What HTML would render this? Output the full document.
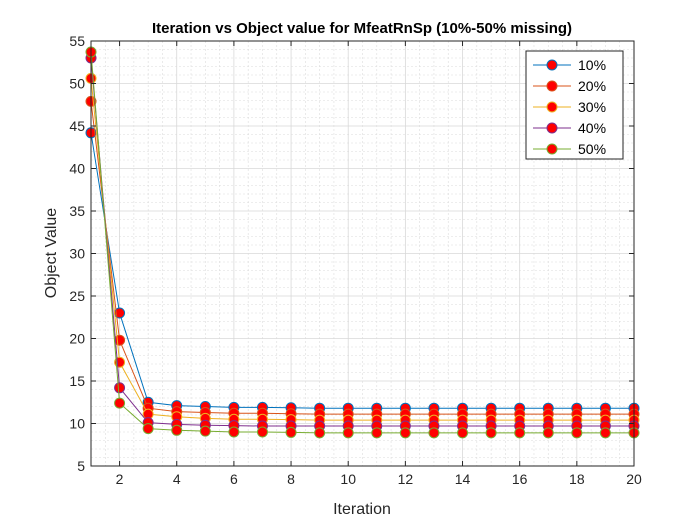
<!DOCTYPE html>
<html><head><meta charset="utf-8"><style>
body{margin:0;background:#fff;font-family:"Liberation Sans",sans-serif}
svg text{font-family:"Liberation Sans",sans-serif}
</style></head><body>
<svg id="chart" width="700" height="525">
<rect x="0" y="0" width="700" height="525" fill="#fff"/>
<g id="grid"></g><g id="series"></g><g id="axes"></g>
</svg>
<script>
const iterations=[1,2,3,4,5,6,7,8,9,10,11,12,13,14,15,16,17,18,19,20];
const s10=[44.2,23.0,12.5,12.1,12.0,11.9,11.9,11.85,11.8,11.8,11.8,11.8,11.8,11.8,11.8,11.8,11.8,11.8,11.8,11.8];
const s20=[47.9,19.8,11.8,11.4,11.3,11.2,11.2,11.15,11.1,11.1,11.1,11.1,11.1,11.1,11.1,11.1,11.1,11.1,11.1,11.1];
const s30=[50.6,17.2,11.1,10.8,10.6,10.5,10.5,10.45,10.4,10.4,10.4,10.4,10.4,10.4,10.4,10.4,10.4,10.4,10.4,10.4];
const s40=[53.0,14.2,10.1,9.9,9.8,9.75,9.7,9.7,9.7,9.7,9.7,9.7,9.7,9.7,9.7,9.7,9.7,9.7,9.7,9.7];
const s50=[53.7,12.4,9.4,9.2,9.1,9.0,9.0,8.95,8.9,8.9,8.9,8.9,8.9,8.9,8.9,8.9,8.9,8.9,8.9,8.9];
const seriesNames=["10%","20%","30%","40%","50%"];
const seriesColors=["#0072BD","#D95319","#EDB120","#7E2F8E","#77AC30"];
const xTicks=[2,4,6,8,10,12,14,16,18,20];
const yTicks=[5,10,15,20,25,30,35,40,45,50,55];
const all=[s10,s20,s30,s40,s50];
const L=91,R=634,T=41,B=466;
const x=v=>L+(v-1)/(20-1)*(R-L);
const y=v=>B-(v-5)/(55-5)*(B-T);
const NS="http://www.w3.org/2000/svg";
function mk(p,t,a){const e=document.createElementNS(NS,t);for(const k in a)e.setAttribute(k,a[k]);p.appendChild(e);return e;}
const grid=document.getElementById('grid'),ser=document.getElementById('series'),ax=document.getElementById('axes');
for(let v=1.5;v<20;v+=0.5){if(Number.isInteger(v)&&v%2===0)continue;mk(grid,'line',{x1:x(v),x2:x(v),y1:T,y2:B,stroke:'#dcdcdc','stroke-dasharray':'2,2','stroke-width':0.6});}
for(let v=6;v<55;v+=1){if(v%5===0)continue;mk(grid,'line',{x1:L,x2:R,y1:y(v),y2:y(v),stroke:'#dcdcdc','stroke-dasharray':'2,2','stroke-width':0.6});}
xTicks.forEach(v=>mk(grid,'line',{x1:x(v),x2:x(v),y1:T,y2:B,stroke:'#d8d8d8','stroke-width':0.8}));
yTicks.forEach(v=>mk(grid,'line',{x1:L,x2:R,y1:y(v),y2:y(v),stroke:'#d8d8d8','stroke-width':0.8}));
all.forEach((s,i)=>{
 const g=mk(ser,'g',{});
 
 
 mk(g,'polyline',{points:s.map((v,j)=>x(iterations[j])+','+y(v)).join(' '),fill:'none',stroke:seriesColors[i],'stroke-width':1});
 s.forEach((v,j)=>{const c=mk(g,'circle',{cx:x(iterations[j]),cy:y(v),r:5,fill:'#ff0000',stroke:seriesColors[i],'stroke-width':1});
  
  });
});
mk(ax,'rect',{x:L,y:T,width:R-L,height:B-T,fill:'none',stroke:'#262626','stroke-width':1});
xTicks.forEach(v=>{mk(ax,'line',{x1:x(v),x2:x(v),y1:B,y2:B-5,stroke:'#262626'});mk(ax,'line',{x1:x(v),x2:x(v),y1:T,y2:T+5,stroke:'#262626'});
 const t=mk(ax,'text',{x:x(v),y:B+18,'text-anchor':'middle','font-size':14,fill:'#262626'});t.textContent=v;});
yTicks.forEach(v=>{mk(ax,'line',{x1:L,x2:L+5,y1:y(v),y2:y(v),stroke:'#262626'});mk(ax,'line',{x1:R,x2:R-5,y1:y(v),y2:y(v),stroke:'#262626'});
 const t=mk(ax,'text',{x:L-6,y:y(v)+5,'text-anchor':'end','font-size':14,fill:'#262626'});t.textContent=v;});
let t=mk(ax,'text',{x:362,y:514,'text-anchor':'middle','font-size':16,fill:'#262626'});t.textContent='Iteration';

t=mk(ax,'text',{x:56,y:253,'text-anchor':'middle','font-size':16,fill:'#262626',transform:'rotate(-90 56 253)'});t.textContent='Object Value';

t=mk(ax,'text',{x:362,y:33,'text-anchor':'middle','font-size':15,'font-weight':'bold',fill:'#000'});t.textContent='Iteration vs Object value for MfeatRnSp (10%-50% missing)';

const lg=mk(ax,'g',{});

mk(lg,'rect',{x:526,y:51,width:97,height:108,fill:'#fff',stroke:'#262626','stroke-width':1});
seriesNames.forEach((n,i)=>{const yy=65+i*21;
 mk(lg,'line',{x1:533,x2:571,y1:yy,y2:yy,stroke:seriesColors[i]});
 mk(lg,'circle',{cx:552,cy:yy,r:5,fill:'#ff0000',stroke:seriesColors[i]});
 const tt=mk(lg,'text',{x:578,y:yy+5,'font-size':14,fill:'#000'});tt.textContent=n;
 });
</script>
</body></html>
